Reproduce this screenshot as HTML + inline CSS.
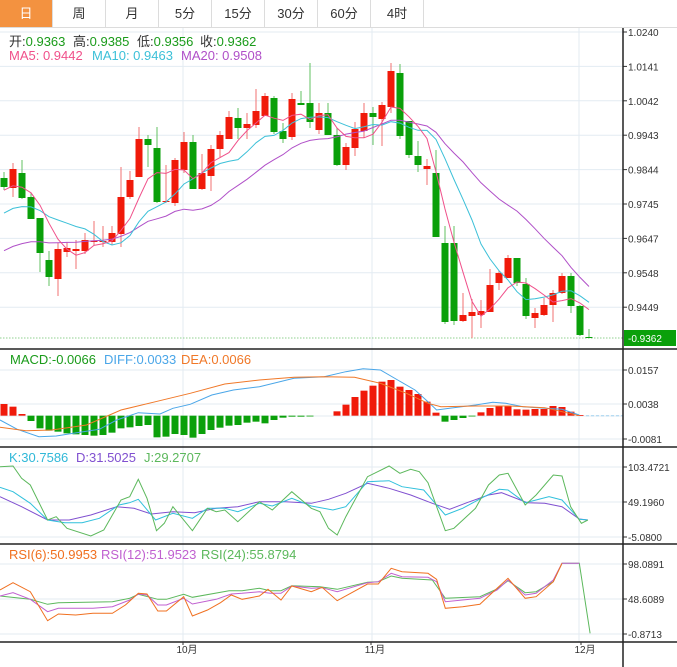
<!DOCTYPE html>
<html><head><meta charset="utf-8"><style>
body{margin:0;background:#fff;width:677px;height:667px;overflow:hidden;font-family:"Liberation Sans","Noto Sans CJK SC",sans-serif}
.tabs{position:absolute;left:0;top:0;width:677px;height:27px;border-bottom:1px solid #dcdcdc;display:flex}
.tab{width:52px;height:27px;border-right:1px solid #dcdcdc;text-align:center;line-height:27px;font-size:13px;color:#333}
.tab.on{background:#f39240;color:#fff}
svg{position:absolute;left:0;top:0}
</style></head><body>
<div class="tabs"><div class="tab on">日</div><div class="tab">周</div><div class="tab">月</div><div class="tab">5分</div><div class="tab">15分</div><div class="tab">30分</div><div class="tab">60分</div><div class="tab">4时</div></div>
<svg id="s" width="677" height="667" style="top:0" xmlns="http://www.w3.org/2000/svg"></svg>
<script>
var S=document.getElementById('s'),h='';
function L(x1,y1,x2,y2,c,w,d){h+='<line x1="'+x1+'" y1="'+y1+'" x2="'+x2+'" y2="'+y2+'" stroke="'+c+'" stroke-width="'+(w||1)+'"'+(d?' stroke-dasharray="'+d+'"':'')+'/>';}
function T(x,y,t,c,s,a){h+='<text x="'+x+'" y="'+y+'" fill="'+c+'" font-size="'+s+'"'+(a?' text-anchor="'+a+'"':'')+'>'+t+'</text>';}
function P(pts,c,w){h+='<polyline fill="none" stroke="'+c+'" stroke-width="'+(w||1)+'" points="'+pts.map(function(p){return p[0].toFixed(1)+','+p[1].toFixed(1)}).join(' ')+'"/>';}
function Z(a,oy){return a.map(function(p){return [p[0]*0.4323,oy+p[1]/3]});}
var GC='#e3ebf2';
for(var k=0;k<9;k++){var y=32+k*34.4;L(0,y,623,y,GC);L(623,y,627,y,'#333');}
[183,372,579].forEach(function(x){L(x,28,x,642,GC);});
[370,404,439,467,502,537,564,599,634].forEach(function(y){L(0,y,623,y,GC);L(623,y,627,y,'#333');});
L(0,416,623,416,GC);
var C=[['G',178,187,172,190],['R',169,188,163,197],['G',173,198,160,199],['G',197,219,193,219],['G',218,253,218,272],['G',260,277,251,286],['R',249,279,243,296],['R',248,252,242,257],['R',249,251,240,269],['R',240,251,233,254],['R',241,242,221,245],['R',241,242,226,247],['R',233,242,226,245],['R',197,234,167,247],['R',180,197,171,199],['R',139,177,127,177],['G',139,145,135,167],['G',148,202,127,203],['R',201,202,165,203],['R',160,203,158,206],['R',142,170,132,173],['G',142,189,135,189],['R',173,189,154,190],['R',149,176,145,191],['R',135,149,131,157],['R',117,139,111,139],['G',118,128,108,139],['R',124,128,113,139],['R',111,125,89,128],['R',96,116,93,116],['G',98,132,96,134],['G',131,139,123,143],['R',99,137,93,140],['G',103,105,91,105],['G',103,122,63,128],['R',113,130,103,134],['G',113,135,103,135],['G',135,165,128,166],['R',147,165,143,170],['R',129,148,122,156],['R',113,131,103,138],['G',113,117,107,145],['R',105,119,102,146],['R',71,107,63,113],['G',73,136,64,139],['G',121,155,121,158],['G',156,165,141,172],['R',166,169,159,185],['G',173,237,150,237],['G',243,322,226,324],['G',243,321,226,325],['R',315,321,293,322],['R',312,316,299,338],['R',311,315,300,328],['R',285,312,269,312],['R',273,283,271,290],['R',258,278,255,278],['G',258,283,258,286],['G',284,316,278,319],['R',313,318,308,328],['R',305,315,298,316],['R',293,305,290,322],['R',276,293,273,294],['G',276,306,273,313],['G',306,335,305,336],['G',337,338,329,338]];
L(0,338,623,338,'#8fd08f',1,'1.5,1.5');
C.forEach(function(c,i){var x=4+9*i,col=c[0]=='R'?'#f01a0a':'#0aa00a';
L(x,c[3],x,c[4],c[0]=='R'?'#f07070':'#60c060');
h+='<rect x="'+(x-3.5)+'" y="'+c[1]+'" width="7" height="'+Math.max(1,c[2]-c[1])+'" fill="'+col+'"/>';});
function ma(n,pad){var out=[];for(var i=0;i<C.length;i++){var s=0;for(var j=i-n+1;j<=i;j++){s+=j<0?pad:(C[j][0]=='R'?C[j][1]:C[j][2]);}out.push([4+9*i,s/n]);}return out;}
P(ma(20,254),'#b050c8');P(ma(10,216),'#3cc0d8');P(ma(5,191),'#f0508a');
var bars={0:192,1:200,2:222};var g=[243,265,272,275,280,283,285,287,285,278,265,262,258,255,292,290,282,285,293,282,270,263,257,255,248,245,250,240,233,230,230,229];
g.forEach(function(v,k){bars[3+k]=v});var r=[214,194,171,152,137,125,120,140,150,162,185,218];r.forEach(function(v,k){bars[37+k]=v});
[245,240,234,228].forEach(function(v,k){bars[49+k]=v});[217,204,198,198,208,209,207,207,198,201,215,225].forEach(function(v,k){bars[53+k]=v});
for(var i in bars){var x=4+9*i,y=340+bars[i]/3,z=340+227/3;var up=y<z;h+='<rect x="'+(x-3.5)+'" y="'+Math.min(y,z)+'" width="7" height="'+Math.max(0.8,Math.abs(y-z))+'" fill="'+(up?'#f01a0a':'#0aa00a')+'"/>';}
L(586,415.7,623,415.7,'#9fd0ee',1,'3,2');
P(Z([[0,240],[40,268],[90,290],[130,288],[170,280],[230,268],[270,240],[320,218],[370,222],[400,205],[440,193],[490,165],[540,150],[600,140],[680,115],[750,110],[800,95],[840,86],[880,90],[920,120],[960,150],[990,185],[1010,210],[1040,205],[1100,195],[1140,187],[1170,190],[1210,200],[1260,205],[1300,208],[1340,225]],340),'#4aa6e8');
P(Z([[0,262],[60,272],[120,270],[200,255],[280,210],[360,185],[440,160],[520,132],[600,120],[680,112],[750,110],[820,112],[880,130],[940,160],[990,190],[1020,200],[1100,198],[1180,198],[1260,203],[1300,215],[1340,227]],340),'#f07828');
P(Z([[0,170],[50,200],[110,240],[160,240],[210,225],[270,200],[310,205],[350,222],[400,215],[450,218],[500,205],[550,200],[600,185],[660,185],[720,190],[760,178],[800,160],[850,130],[900,145],[950,165],[1000,190],[1040,208],[1080,188],[1130,165],[1160,158],[1220,188],[1260,190],[1300,200],[1340,237],[1360,240]],440),'#8050d0');
P(Z([[0,142],[30,155],[70,190],[110,240],[150,248],[190,248],[230,235],[275,195],[300,188],[320,178],[360,240],[400,220],[445,235],[480,205],[520,205],[550,215],[600,190],[630,198],[675,175],[720,198],[770,210],[800,200],[850,125],[900,122],[930,140],[980,150],[1030,225],[1070,205],[1120,170],[1155,148],[1175,150],[1215,188],[1240,180],[1270,170],[1300,180],[1340,238],[1360,240]],440),'#30c0dc');
P(Z([[0,80],[30,78],[50,115],[70,135],[110,240],[130,230],[155,265],[210,288],[240,270],[280,180],[300,170],[320,118],[340,175],[362,272],[380,250],[400,200],[445,272],[480,205],[500,215],[520,210],[550,245],[600,185],[630,210],[675,155],[720,205],[740,215],[760,265],[780,285],[800,230],[850,110],[900,78],[925,100],[950,88],[970,95],[990,128],[1030,272],[1050,265],[1100,205],[1130,135],[1155,105],[1175,100],[1215,195],[1240,165],[1280,105],[1300,108],[1320,200],[1345,250],[1360,240]],440),'#5cb85c');
P(Z([[0,468],[70,478],[110,493],[135,488],[260,485],[300,475],[320,463],[365,478],[385,478],[425,463],[445,472],[530,452],[560,452],[600,445],[625,452],[650,452],[675,437],[740,440],[780,448],[850,427],[875,425],[905,408],[930,415],[1000,420],[1030,475],[1110,470],[1150,447],[1175,422],[1215,458],[1240,455],[1280,425],[1300,370],[1340,370],[1365,580]],440),'#5cb85c');
P(Z([[0,468],[30,458],[70,478],[110,515],[135,505],[215,505],[260,500],[300,480],[320,462],[340,465],[365,495],[385,495],[425,475],[445,492],[500,478],[535,462],[560,460],[600,455],[625,460],[650,460],[675,438],[720,445],[745,443],[780,455],[850,428],[875,425],[905,400],[930,410],[990,412],[1010,425],[1030,485],[1110,475],[1150,450],[1175,420],[1215,465],[1240,460],[1280,420],[1300,370],[1340,370]],440),'#c060d0');
P(Z([[0,450],[30,428],[70,455],[110,542],[135,522],[175,525],[215,520],[260,520],[290,495],[320,460],[340,462],[365,513],[385,513],[425,470],[445,528],[480,510],[510,488],[535,465],[560,478],[600,468],[620,448],[650,480],[675,438],[720,455],[745,442],[780,482],[850,432],[875,432],[905,385],[930,395],[990,400],[1010,418],[1030,505],[1070,500],[1110,493],[1150,445],[1175,415],[1215,475],[1240,470],[1280,425],[1300,370]],440),'#f07020');
[349,447,544,642].forEach(function(y){L(0,y,677,y,'#222',1.5);});
L(623,28,623,667,'#222',1.5);
var al=[['1.0240',32],['1.0141',66.4],['1.0042',100.8],['0.9943',135.2],['0.9844',169.6],['0.9745',204],['0.9647',238.4],['0.9548',272.8],['0.9449',307.2],['0.0157',370],['0.0038',404],['-0.0081',439],['103.4721',467],['49.1960',502],['-5.0800',537],['98.0891',564],['48.6089',599],['-0.8713',634]];
al.forEach(function(a){T(628,a[1]+4,a[0],'#333',10);});
h+='<rect x="624" y="330" width="52" height="16" fill="#0aa00a"/>';T(628,342,'-0.9362','#fff',10);
[['10月',187],['11月',375],['12月',585]].forEach(function(a){T(a[1],653,a[0],'#333',10,'middle');L(a[1]-4,642,a[1]-4,645,'#333');});
function LG(y,items){h+='<text y="'+y+'" font-size="13">';items.forEach(function(it){h+='<tspan x="'+it[0]+'" fill="'+it[2]+'">'+it[1]+'</tspan>'+(it[3]?'<tspan fill="'+it[4]+'">'+it[3]+'</tspan>':'');});h+='</text>';}
LG(46,[[9,'开:','#333','0.9363','#1a9b1a'],[73,'高:','#333','0.9385','#1a9b1a'],[137,'低:','#333','0.9356','#1a9b1a'],[200,'收:','#333','0.9362','#1a9b1a']]);
LG(60,[[9,'MA5: 0.9442','#f0508a'],[92,'MA10: 0.9463','#3cc0d8'],[181,'MA20: 0.9508','#b050c8']]);
LG(364,[[10,'MACD:-0.0066','#1a9b1a'],[104,'DIFF:0.0033','#4aa6e8'],[181,'DEA:0.0066','#f07828']]);
LG(462,[[9,'K:30.7586','#30b8d8'],[76,'D:31.5025','#8050d0'],[144,'J:29.2707','#5cb85c']]);
LG(559,[[9,'RSI(6):50.9953','#f07020'],[101,'RSI(12):51.9523','#c060d0'],[201,'RSI(24):55.8794','#5cb85c']]);
S.innerHTML=h;
</script>
</body></html>
